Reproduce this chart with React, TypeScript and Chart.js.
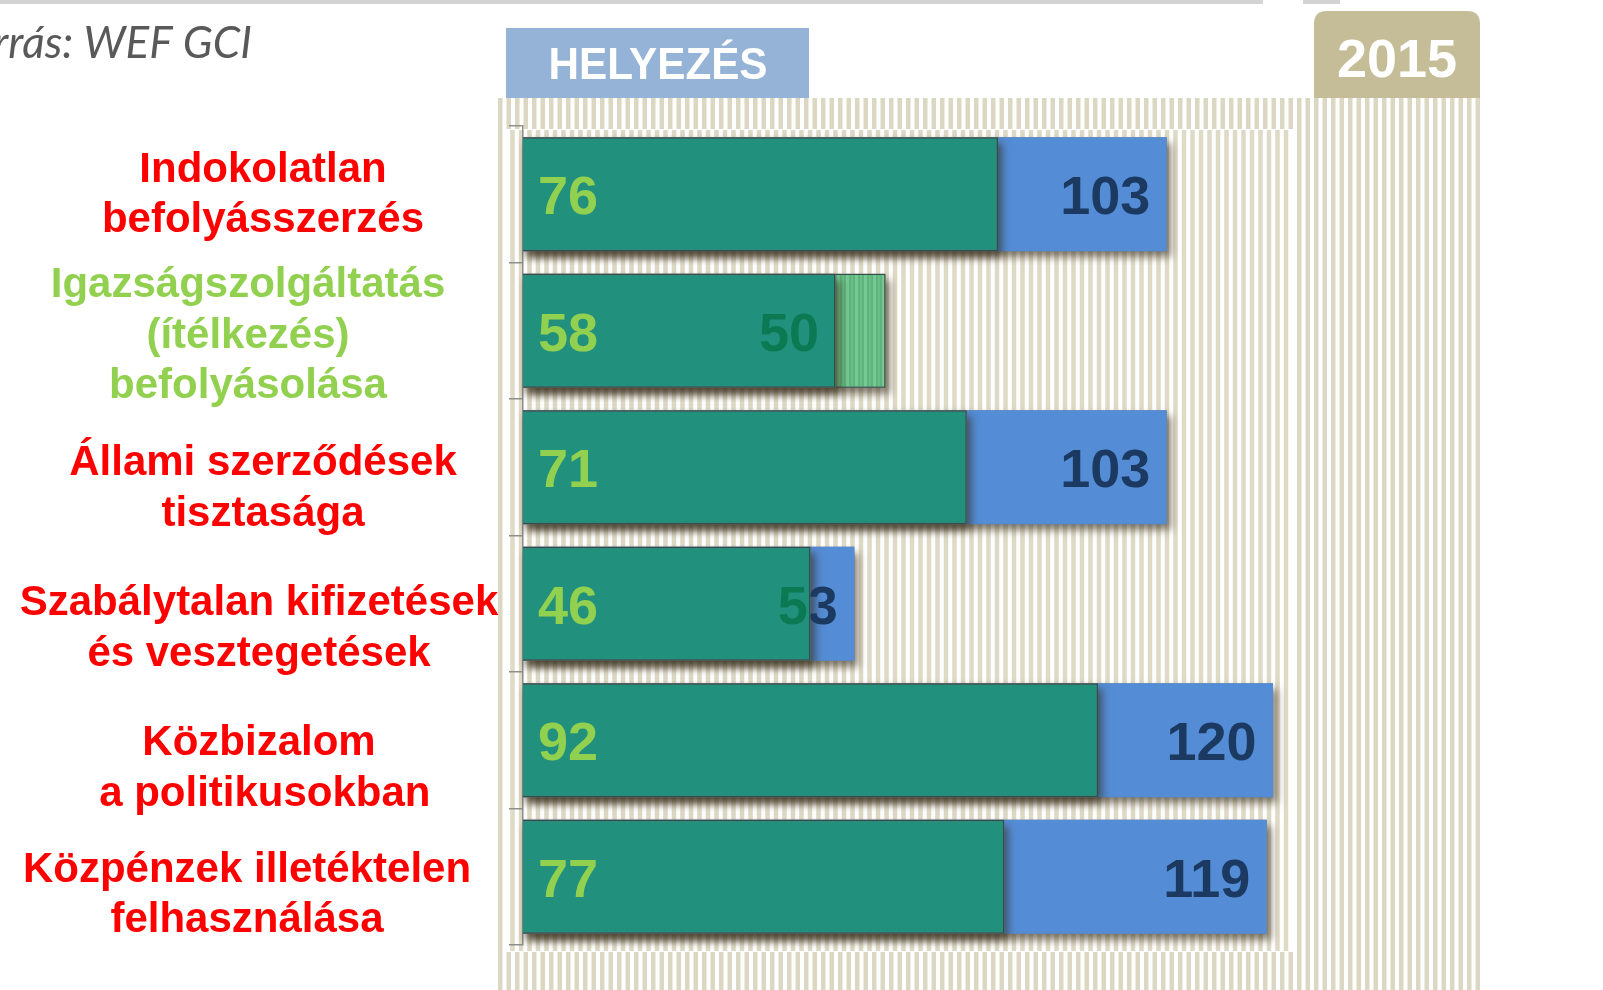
import React, { useEffect, useRef } from "react";
import { Chart, registerables } from "chart.js";

Chart.register(...registerables);

// ---------- data ----------
const categories: string[][] = [
  ["Indokolatlan", "befolyásszerzés"],
  ["Igazságszolgáltatás", "(ítélkezés)", "befolyásolása"],
  ["Állami szerződések", "tisztasága"],
  ["Szabálytalan kifizetések", "és vesztegetések"],
  ["Közbizalom", " a politikusokban"],
  ["Közpénzek illetéktelen", "felhasználása"],
];
const previousRank = [76, 58, 71, 46, 92, 77];
const rank2015 = [103, 50, 103, 53, 120, 119];
const axisMin = 0;
const axisMax = 125;
const sourceText = "Forrás: WEF GCI";
const headerText = "HELYEZÉS";
const yearText = "2015";

// ---------- styles ----------
const FONT = "'Liberation Sans', Arial, Helvetica, sans-serif";
const TEAL = "#21917d";
const BLUE = "#548dd5";
const BAR_BORDER = "#32504b";
const RED = "#ff0000";
const LIGHT_GREEN = "#92d050";
const DARK_GREEN = "#0b7a52";
const NAVY = "#1b3961";
const STRIPE = "#dcd7c2";
const LABEL_CX = [263, 248, 263, 259, 259, 247];
const LABEL_DY = [-12.5, -33.75, 7.75, 11.25, 14.75, 5];
const LINE_H = 50.5;

const W = 1603;
const H = 990;
const AREA_LEFT = 523;
const AREA_TOP = 126;
const AREA_BOTTOM = 945;
const PX_PER_UNIT = 6.25;
const AREA_RIGHT = AREA_LEFT + (axisMax - axisMin) * PX_PER_UNIT;

function makeGreenPattern(ctx: CanvasRenderingContext2D): CanvasPattern | string {
  const c = document.createElement("canvas");
  c.width = 9;
  c.height = 10;
  const g = c.getContext("2d");
  if (!g) return "#5fb97d";
  g.fillStyle = "#5db57b";
  g.fillRect(0, 0, 9, 10);
  g.fillStyle = "#77c794";
  g.fillRect(0, 0, 3, 10);
  g.fillStyle = "#69be88";
  g.fillRect(5, 0, 2, 10);
  return ctx.createPattern(c, "repeat") || "#5fb97d";
}

export default function App() {
  const canvasRef = useRef<HTMLCanvasElement | null>(null);

  useEffect(() => {
    const canvas = canvasRef.current;
    if (!canvas) return;
    const ctx0 = canvas.getContext("2d")!;
    const pattern = makeGreenPattern(ctx0);

    const frontVals = previousRank.map((p, i) => Math.min(p, rank2015[i]));
    const backVals = previousRank.map((p, i) => Math.max(p, rank2015[i]));
    const improved = previousRank.map((p, i) => rank2015[i] < p);
    const backColors = improved.map((imp) => (imp ? pattern : BLUE));
    const backBorders = improved.map((imp) => (imp ? 1.3 : 0));

    const backgroundPlugin = {
      id: "stripedBackground",
      beforeDraw(chart: any) {
        const ctx: CanvasRenderingContext2D = chart.ctx;
        ctx.save();
        // top grey rules
        ctx.fillStyle = "#d3d3d3";
        ctx.fillRect(0, 0, 1263, 4);
        ctx.fillRect(1303, 0, 37, 4);
        // outer striped panel
        ctx.fillStyle = STRIPE;
        for (let x = 498; x < 1478; x += 8.5) {
          ctx.fillRect(x, 98, 4.5, H - 98);
        }
        // inner panel (shifted stripes)
        ctx.fillStyle = "#ffffff";
        ctx.fillRect(506, 129, 1293 - 506, 952 - 129);
        ctx.fillStyle = "#dfdac6";
        for (let x = 510.25; x < 1291; x += 8.5) {
          ctx.fillRect(x, 130, 4.5, 952 - 131);
        }
        // header boxes
        ctx.fillStyle = "#95b3d7";
        ctx.fillRect(506, 28, 303, 70);
        ctx.fillStyle = "#c4bd97";
        ctx.beginPath();
        const bx = 1314, by = 11, bw = 166, bh = 87, r = 13;
        ctx.moveTo(bx, by + bh);
        ctx.lineTo(bx, by + r);
        ctx.quadraticCurveTo(bx, by, bx + r, by);
        ctx.lineTo(bx + bw - r, by);
        ctx.quadraticCurveTo(bx + bw, by, bx + bw, by + r);
        ctx.lineTo(bx + bw, by + bh);
        ctx.closePath();
        ctx.fill();
        // header texts
        ctx.fillStyle = "#ffffff";
        ctx.textAlign = "center";
        ctx.textBaseline = "alphabetic";
        ctx.font = `bold 45px ${FONT}`;
        ctx.fillText(headerText, 658, 79, 219);
        ctx.font = `bold 54px ${FONT}`;
        ctx.fillText(yearText, 1397, 77);
        // source text (cut off at the left edge)
        ctx.fillStyle = "#595959";
        ctx.textAlign = "right";
        ctx.font = `italic 44px Lato, 'Open Sans', sans-serif`;
        ctx.fillText(sourceText, 252, 58);
        ctx.restore();
      },
    };

    const shadowPlugin = {
      id: "barShadow",
      beforeDatasetDraw(chart: any, args: any) {
        const ctx: CanvasRenderingContext2D = chart.ctx;
        const meta = args.meta;
        ctx.save();
        ctx.shadowColor = "rgba(50,40,20,0.6)";
        ctx.shadowBlur = 8;
        ctx.shadowOffsetX = 4;
        ctx.shadowOffsetY = 6;
        ctx.fillStyle = "#777777";
        meta.data.forEach((el: any) => {
          const p = el.getProps(["x", "y", "base", "height"], true);
          const left = Math.min(p.x, p.base);
          const w = Math.abs(p.x - p.base);
          ctx.fillRect(left, p.y - p.height / 2, w, p.height);
        });
        ctx.restore();
      },
    };

    const labelPlugin = {
      id: "labels",
      afterDatasetsDraw(chart: any) {
        const ctx: CanvasRenderingContext2D = chart.ctx;
        const xs = chart.scales.x;
        const ys = chart.scales.y;
        ctx.save();
        ctx.textBaseline = "alphabetic";
        // category labels
        ctx.font = `bold 42px ${FONT}`;
        ctx.textAlign = "center";
        categories.forEach((lines, i) => {
          const cy = ys.getPixelForValue(i);
          ctx.fillStyle = improved[i] ? LIGHT_GREEN : RED;
          lines.forEach((line, j) => {
            ctx.fillText(line, LABEL_CX[i], cy + LABEL_DY[i] + j * LINE_H);
          });
        });
        // value labels
        ctx.font = `bold 54px ${FONT}`;
        previousRank.forEach((p, i) => {
          const cy = ys.getPixelForValue(i);
          const base = xs.getPixelForValue(0);
          ctx.textAlign = "left";
          ctx.fillStyle = LIGHT_GREEN;
          ctx.fillText(String(p), base + 15, cy + 20);

          const cur = rank2015[i];
          const tx = xs.getPixelForValue(cur) - 16.5;
          const xf = xs.getPixelForValue(frontVals[i]);
          ctx.textAlign = "right";
          ctx.save();
          ctx.beginPath();
          ctx.rect(0, cy - 60, xf, 120);
          ctx.clip();
          ctx.fillStyle = DARK_GREEN;
          ctx.fillText(String(cur), tx, cy + 20);
          ctx.restore();
          ctx.save();
          ctx.beginPath();
          ctx.rect(xf, cy - 60, W - xf, 120);
          ctx.clip();
          ctx.fillStyle = NAVY;
          ctx.fillText(String(cur), tx, cy + 20);
          ctx.restore();
        });
        ctx.restore();
      },
    };

    const chart = new Chart(canvas, {
      type: "bar",
      data: {
        labels: categories.map((c) => c.join(" ")),
        datasets: [
          {
            label: "front",
            data: frontVals,
            backgroundColor: TEAL,
            borderColor: BAR_BORDER,
            borderWidth: 1.5,
            borderSkipped: "start",
            grouped: false,
            barPercentage: 0.835,
            categoryPercentage: 1,
            order: 0,
            clip: false,
          } as any,
          {
            label: "back",
            data: backVals,
            backgroundColor: backColors as any,
            borderColor: BAR_BORDER,
            borderWidth: backBorders,
            borderSkipped: "start",
            grouped: false,
            barPercentage: 0.835,
            categoryPercentage: 1,
            order: 1,
            clip: false,
          } as any,
        ],
      },
      options: {
        indexAxis: "y",
        responsive: false,
        animation: false,
        devicePixelRatio: 1,
        layout: {
          padding: {
            left: 0,
            top: AREA_TOP,
            right: W - AREA_RIGHT,
            bottom: H - AREA_BOTTOM,
          },
        },
        plugins: {
          legend: { display: false },
          tooltip: { enabled: false },
          title: { display: false },
        },
        scales: {
          x: {
            type: "linear",
            min: axisMin,
            max: axisMax,
            display: false,
          },
          y: {
            type: "category",
            offset: true,
            ticks: { display: false },
            grid: {
              offset: true,
              drawOnChartArea: false,
              drawTicks: true,
              tickLength: 14,
              color: "#8e8e8e",
              lineWidth: 1.5,
            },
            border: { display: true, color: "#8e8e8e", width: 1.5 },
            afterFit(scale: any) {
              scale.width = AREA_LEFT;
            },
          },
        },
      } as any,
      plugins: [backgroundPlugin, shadowPlugin, labelPlugin],
    });

    return () => chart.destroy();
  }, []);

  return (
    <div style={{ position: "fixed", left: 0, top: 0, width: W, height: H, background: "#ffffff" }}>
      <canvas ref={canvasRef} width={W} height={H} style={{ width: W, height: H, display: "block" }} />
    </div>
  );
}
